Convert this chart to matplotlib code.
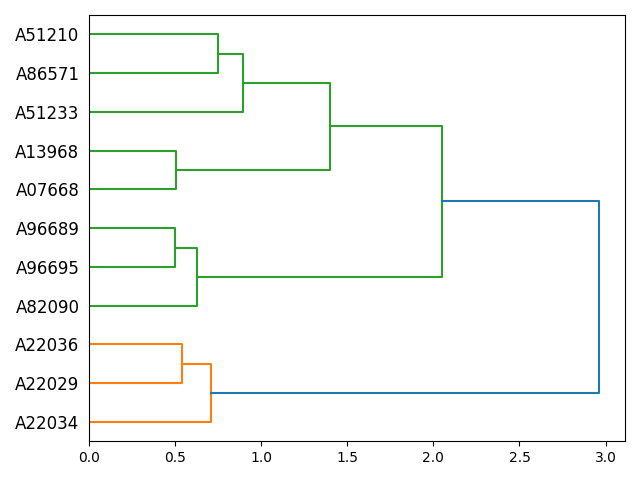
import matplotlib
matplotlib.use("Agg")
import matplotlib.pyplot as plt

# Leaves, listed bottom to top
labels = ["A22034", "A22029", "A22036", "A82090", "A96695", "A96689",
          "A07668", "A13968", "A51233", "A86571", "A51210"]

# Merges: (child_a, child_b, height); new cluster ids start at len(labels)
merge_a = [1, 0, 4, 3, 6, 9, 8, 15, 14, 12]
merge_b = [2, 11, 5, 13, 7, 10, 16, 17, 18, 19]
heights = [0.541, 0.709, 0.500, 0.628, 0.506, 0.751, 0.895, 1.401, 2.052, 2.965]

# Cluster colour for each merge (below threshold), above-threshold color
merge_colors = ["C1", "C1", "C2", "C2", "C2", "C2", "C2", "C2", "C2", "C0"]

n = len(labels)
ypos = {i: 5 + 10 * i for i in range(n)}
hpos = {i: 0.0 for i in range(n)}

fig, ax = plt.subplots(figsize=(6.4, 4.8), dpi=100)
for k, (a, b, h) in enumerate(zip(merge_a, merge_b, heights)):
    cid = n + k
    ya, yb = ypos[a], ypos[b]
    ax.plot([hpos[a], h, h, hpos[b]], [ya, ya, yb, yb], color=merge_colors[k])
    ypos[cid] = (ya + yb) / 2
    hpos[cid] = h

ax.set_ylim(0, 10 * n)
ax.set_xlim(0, max(heights) * 1.05)
ax.set_yticks([5 + 10 * i for i in range(n)])
ax.set_yticklabels(labels, fontsize=12)
for line in ax.get_yticklines():
    line.set_visible(False)
fig.tight_layout()
fig.savefig("out.png")
